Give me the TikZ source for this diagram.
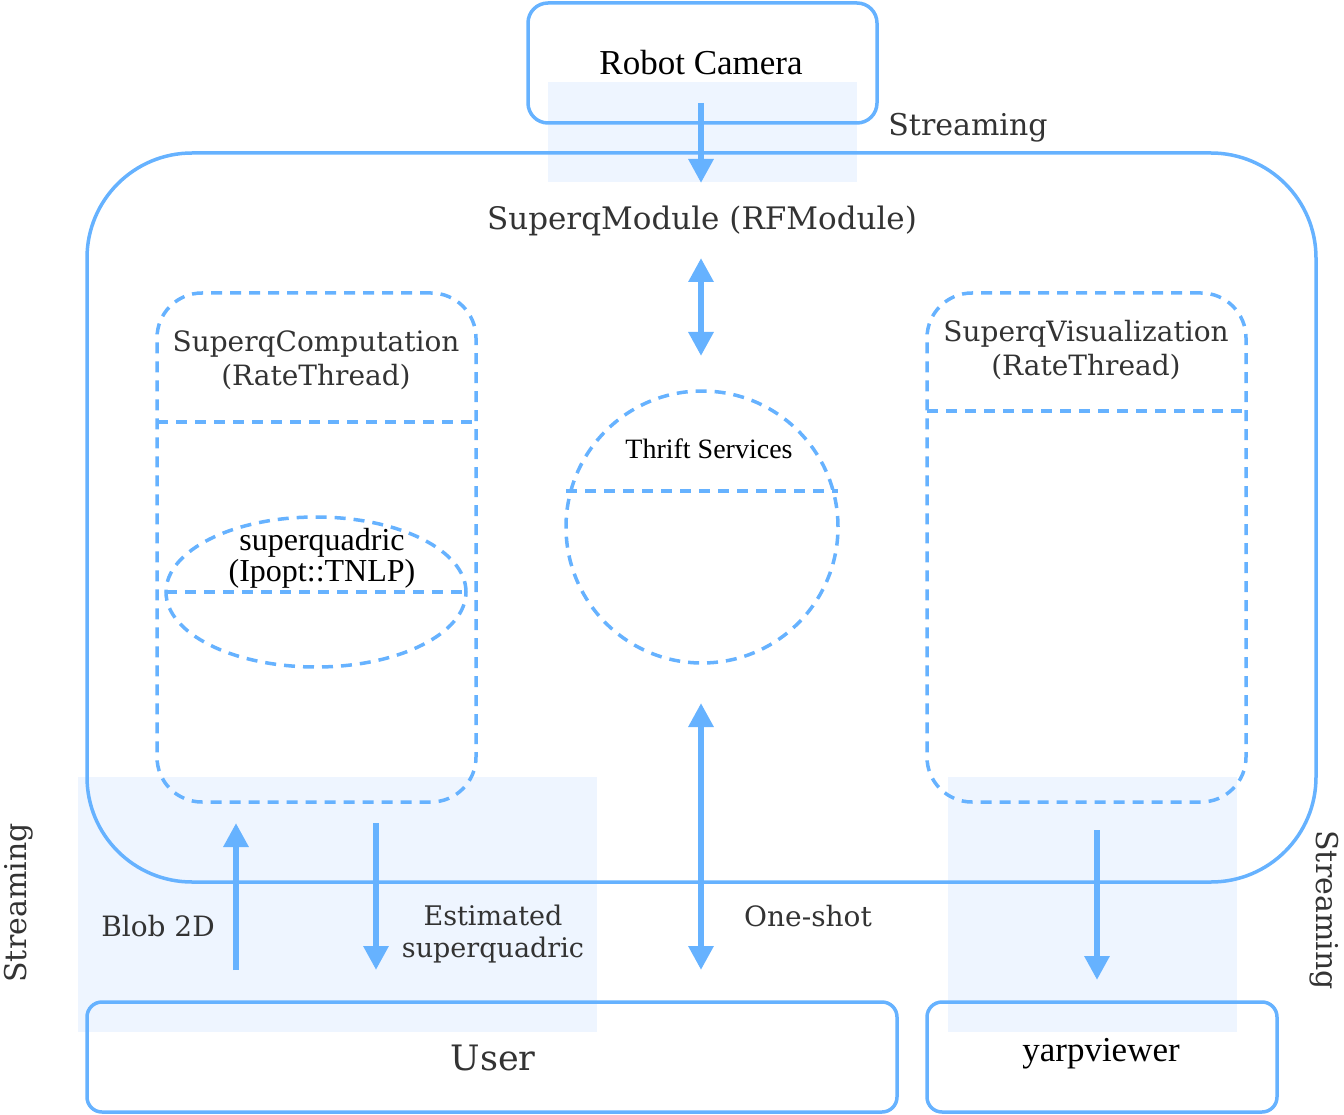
\documentclass[tikz,border=0pt]{standalone}
\usepackage{fontspec}
\setmainfont{DejaVu Serif}
\newfontfamily\timesfont{Liberation Serif}
\usetikzlibrary{shapes.geometric,arrows.meta}
\definecolor{lineblue}{RGB}{102,178,255}
\definecolor{shadeblue}{RGB}{238,245,255}
\definecolor{txtgrey}{RGB}{51,51,51}
\begin{document}
\begin{tikzpicture}[
 x=1pt,y=-1pt,
 plainbox/.style={draw=lineblue,line width=3.5pt,rounded corners=#1,outer sep=0pt,inner sep=0pt},
 dashbox/.style={plainbox=#1,dash pattern=on 11pt off 8pt},
 dashline/.style={draw=lineblue,line width=3.5pt,dash pattern=on 11pt off 8pt},
 flow/.style={draw=lineblue,line width=6.5pt,-{Triangle[width=24pt,length=24pt]}},
 twoway/.style={flow,{Triangle[width=24pt,length=24pt]}-{Triangle[width=24pt,length=24pt]}},
 greytext/.style={text=txtgrey,align=center,font=\fontsize{#1}{34}\selectfont,inner sep=0pt},
 blacktext/.style={text=black,align=center,font=\timesfont\fontsize{#1}{31}\selectfont,inner sep=0pt}]
\useasboundingbox (0,0) rectangle (1344,1115);
% light bands behind the streaming links
\fill[shadeblue] (548,82) rectangle (857,182);
\fill[shadeblue] (78,777) rectangle (597,1032);
\fill[shadeblue] (948,777) rectangle (1237,1032);
% boxes
\node[plainbox=20pt,minimum width=349pt,minimum height=120pt] (camera) at (702.5,63) {};
\node[plainbox=105pt,minimum width=1229pt,minimum height=729pt] (module) at (701.5,517.5) {};
\node[dashbox=45pt,minimum width=319pt,minimum height=509pt] (comp) at (316.5,547.5) {};
\node[dashbox=45pt,minimum width=319pt,minimum height=509pt] (vis) at (1086.5,547.5) {};
\node[ellipse,draw=lineblue,line width=3.5pt,dash pattern=on 11pt off 8pt,minimum width=300pt,minimum height=150pt,inner sep=0pt,outer sep=0pt] (sq) at (316,592) {};
\node[circle,draw=lineblue,line width=3.5pt,dash pattern=on 11pt off 8pt,minimum size=272pt,inner sep=0pt,outer sep=0pt] (thrift) at (702,527) {};
\node[plainbox=15pt,minimum width=810pt,minimum height=110pt] (user) at (492,1057) {};
\node[plainbox=15pt,minimum width=350pt,minimum height=110pt] (viewer) at (1102,1057) {};
\draw[dashline] ([yshift=-129pt]comp.north west) -- ([yshift=-129pt]comp.north east);
\draw[dashline] ([yshift=-118pt]vis.north west) -- ([yshift=-118pt]vis.north east);
\draw[dashline] (sq.west) -- (sq.east);
\draw[dashline] ([yshift=36pt]thrift.west) -- ([yshift=36pt]thrift.east);
% texts
\node[blacktext=35] (cameralbl) at (701,63) {Robot Camera};
\node[greytext=31] (modulelbl) at (702,221) {SuperqModule (RFModule)};
\node[greytext=28] (complbl) at (316,360) {SuperqComputation\\(RateThread)};
\node[greytext=28] (vislbl) at (1086,350) {SuperqVisualization\\(RateThread)};
\node[blacktext=32] (sqlbl) at (322,558) {superquadric\\(Ipopt::TNLP)};
\node[blacktext=28] (thriftlbl) at (709,449) {Thrift Services};
\node[greytext=35] (userlbl) at (493,1058) {User};
\node[blacktext=35] (viewerlbl) at (1101,1054) {yarpviewer};
\node[greytext=30] (stream1) at (968,128) {Streaming};
\node[greytext=30,rotate=90] (stream2) at (19,903) {Streaming};
\node[greytext=30,rotate=-90] (stream3) at (1324,910) {Streaming};
\node[greytext=28] (bloblbl) at (158,926) {Blob 2D};
\node[greytext=28,font=\fontsize{27}{32}\selectfont] (estlbl) at (493,934) {Estimated\\superquadric};
\node[greytext=28] (oneshot) at (808,916) {One-shot};
% connectors
\coordinate (camout) at (701,103);
\coordinate (modin) at (701,183);
\coordinate (modrpc) at (701,258);
\coordinate (thriftin) at (701,356);
\coordinate (thriftout) at (701,703);
\coordinate (userrpc) at (701,970);
\coordinate (userblob) at (236,970);
\coordinate (compin) at (236,823);
\coordinate (compout) at (376,823);
\coordinate (userest) at (376,970);
\coordinate (visout) at (1097,830);
\coordinate (viewerin) at (1097,980);
\draw[flow] (camout) -- (modin);
\draw[twoway] (modrpc) -- (thriftin);
\draw[twoway] (thriftout) -- (userrpc);
\draw[flow] (userblob) -- (compin);
\draw[flow] (compout) -- (userest);
\draw[flow] (visout) -- (viewerin);
\end{tikzpicture}
\end{document}
